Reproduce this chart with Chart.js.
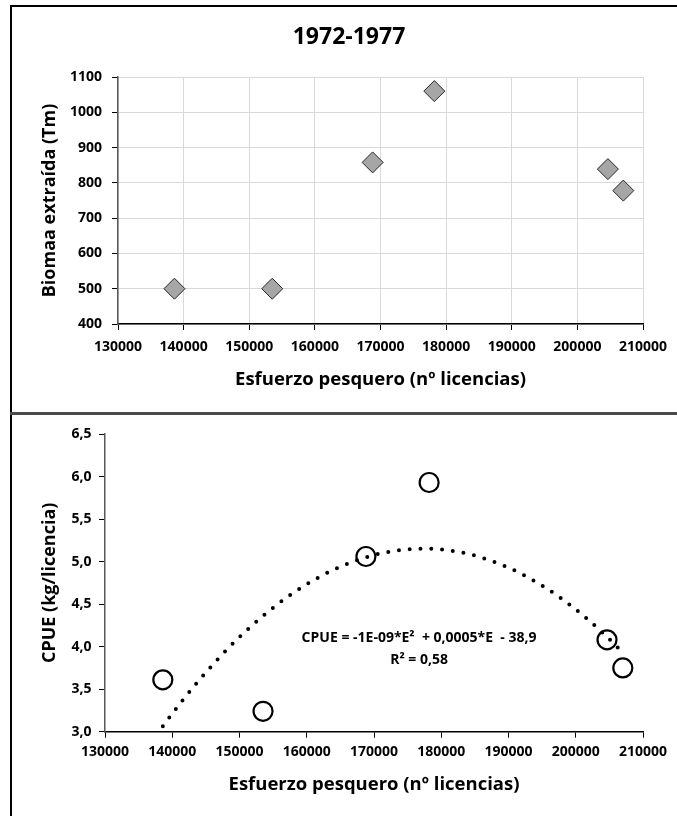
<!DOCTYPE html>
<html>
<head>
<meta charset="utf-8">
<script src="https://cdn.jsdelivr.net/npm/chart.js@4.4.1/dist/chart.umd.min.js"></script>
<style>
  body { margin: 0; background: #fff; }
  #wrap { position: relative; width: 677px; height: 816px; overflow: hidden; }
  canvas { position: absolute; left: 0; }
  #biomasaChart { top: 0; }
  #cpueChart { top: 413px; }
  .rule { position: absolute; }
</style>
</head>
<body>
<div id="wrap">
  <canvas id="biomasaChart" width="677" height="413"></canvas>
  <canvas id="cpueChart" width="677" height="403"></canvas>
  <div class="rule" style="left:10px;top:5px;width:2px;height:811px;background:#000"></div>
  <div class="rule" style="left:10px;top:5px;width:667px;height:2px;background:#000"></div>
  <div class="rule" style="left:10px;top:412px;width:667px;height:3px;background:#4a4a4a"></div>
</div>
<script>
'use strict';

// fishing effort (licences) for 1972-1977
const esfuerzo = [138600, 153500, 168800, 178200, 204650, 207000];
// extracted biomass (Tm)
const biomasa = [500, 500, 858, 1060, 839, 778];
// catch per unit effort (kg/licence)
const cpue = [3.61, 3.24, 5.06, 5.93, 4.08, 3.75];

const chartTitle = '1972-1977';
const xTitle = 'Esfuerzo pesquero (nº licencias)';
const yTitleBiomasa = 'Biomaa extraída (Tm)';
const yTitleCpue = 'CPUE (kg/licencia)';
const equationText = ['CPUE = -1E-09*E\u00B2  + 0,0005*E  - 38,9', 'R\u00B2 = 0,58'];

const FONT = "'Open Sans', 'Liberation Sans', sans-serif";

// least squares fit y = c0 + c1*t + c2*t^2 (t = x / 1e5), like the Excel trendline
function fitQuadratic(xs, ys) {
  const s = [0, 0, 0, 0, 0];
  const r = [0, 0, 0];
  xs.forEach((x, i) => {
    const t = x / 1e5;
    let p = 1;
    for (let k = 0; k < 5; k++) {
      s[k] += p;
      if (k < 3) r[k] += p * ys[i];
      p *= t;
    }
  });
  const m = [[s[0], s[1], s[2], r[0]], [s[1], s[2], s[3], r[1]], [s[2], s[3], s[4], r[2]]];
  for (let c = 0; c < 3; c++) {
    for (let j = c + 1; j < 3; j++) {
      const f = m[j][c] / m[c][c];
      for (let k = c; k < 4; k++) m[j][k] -= f * m[c][k];
    }
  }
  const coef = [0, 0, 0];
  for (let c = 2; c >= 0; c--) {
    let v = m[c][3];
    for (let k = c + 1; k < 3; k++) v -= m[c][k] * coef[k];
    coef[c] = v / m[c][c];
  }
  return x => { const t = x / 1e5; return coef[0] + coef[1] * t + coef[2] * t * t; };
}

const trend = fitQuadratic(esfuerzo, cpue);
const eMin = Math.min(...esfuerzo);
const eMax = Math.max(...esfuerzo);
const trendPoints = [];
for (let i = 0; i <= 200; i++) {
  const e = eMin + (eMax - eMin) * i / 200;
  trendPoints.push({x: e, y: trend(e)});
}

const tickFont = {family: FONT, size: 14, weight: 'bold'};
const titleFont = {family: FONT, size: 18.5, weight: 'bold'};

function xAxis(tickPad, height, titlePad) {
  return {
    type: 'linear', min: 130000, max: 210000,
    ticks: {stepSize: 10000, color: '#000', padding: tickPad, font: tickFont, callback: v => String(v)},
    title: {display: true, text: xTitle, color: '#000', padding: {top: 0, bottom: titlePad}, font: titleFont},
    border: {color: '#000', width: 1.5},
    afterFit: scale => { scale.height = height; }
  };
}

function yAxisTitle(text) {
  return {display: true, text: text, color: '#000', padding: {top: 39, bottom: 0}, font: {family: FONT, size: 18, weight: 'bold'}};
}

// chart heading, drawn on the canvas
const heading = {
  id: 'heading',
  afterDraw(chart, args, opts) {
    if (!opts.text) return;
    const ctx = chart.ctx;
    ctx.save();
    ctx.font = 'bold 23px ' + FONT;
    ctx.fillStyle = '#000';
    ctx.textAlign = 'center';
    ctx.textBaseline = 'middle';
    ctx.fillText(opts.text, opts.x, opts.y);
    ctx.restore();
  }
};

new Chart(document.getElementById('biomasaChart'), {
  type: 'scatter',
  data: {
    datasets: [{
      data: esfuerzo.map((e, i) => ({x: e, y: biomasa[i]})),
      pointStyle: 'rectRot',
      pointRadius: 10.5,
      pointHoverRadius: 10.5,
      backgroundColor: '#a6a6a6',
      borderColor: '#262626',
      borderWidth: 1
    }]
  },
  options: {
    responsive: false,
    animation: false,
    events: [],
    layout: {padding: {left: 0, right: 34, top: 77, bottom: 0}},
    plugins: {
      legend: {display: false},
      tooltip: {enabled: false},
      heading: {text: chartTitle, x: 349, y: 37}
    },
    scales: {
      x: Object.assign(xAxis(8.6, 89, 21.7), {grid: {color: '#d9d9d9', tickColor: '#000', tickLength: 6}}),
      y: {
        min: 400, max: 1100,
        ticks: {stepSize: 100, color: '#000', padding: 10, font: tickFont, callback: v => String(v)},
        title: yAxisTitle(yTitleBiomasa),
        grid: {color: '#d9d9d9', tickColor: '#000', tickLength: 6},
        border: {color: '#595959', width: 1.5},
        afterFit: scale => { scale.width = 118; }
      }
    }
  },
  plugins: [heading]
});

// trendline equation, anchored on data coordinates
const equationLabel = {
  id: 'equationLabel',
  afterDatasetsDraw(chart, args, opts) {
    const {ctx, scales: {x, y}} = chart;
    ctx.save();
    ctx.font = opts.font;
    ctx.fillStyle = '#000';
    ctx.textAlign = 'center';
    ctx.textBaseline = 'middle';
    opts.lines.forEach((text, i) => {
      ctx.fillText(text, x.getPixelForValue(opts.at[i][0]), y.getPixelForValue(opts.at[i][1]));
    });
    ctx.restore();
  }
};

new Chart(document.getElementById('cpueChart'), {
  type: 'scatter',
  data: {
    datasets: [{
      data: esfuerzo.map((e, i) => ({x: e, y: cpue[i]})),
      pointStyle: 'circle',
      pointRadius: 9.5,
      pointHoverRadius: 9.5,
      backgroundColor: 'rgba(0,0,0,0)',
      borderColor: '#000',
      borderWidth: 2.2
    }, {
      type: 'line',
      data: trendPoints,
      showLine: true,
      pointRadius: 0,
      borderColor: '#000',
      borderWidth: 4,
      borderDash: [0, 10.8],
      borderCapStyle: 'round',
      tension: 0,
      fill: false
    }]
  },
  options: {
    responsive: false,
    animation: false,
    events: [],
    layout: {padding: {left: 0, right: 34, top: 21, bottom: 0}},
    plugins: {
      legend: {display: false},
      tooltip: {enabled: false},
      equationLabel: {font: 'bold 14px ' + FONT, lines: equationText, at: [[176700, 4.10], [176700, 3.84]]}
    },
    scales: {
      x: Object.assign(xAxis(5.9, 84.3, 19.7), {grid: {drawOnChartArea: false, tickColor: '#000', tickLength: 6}}),
      y: {
        min: 3, max: 6.5,
        ticks: {stepSize: 0.5, color: '#000', padding: 7.5, font: tickFont, callback: v => v.toFixed(1).replace('.', ',')},
        title: yAxisTitle(yTitleCpue),
        grid: {drawOnChartArea: false, tickColor: '#000', tickLength: 6},
        border: {color: '#595959', width: 1.5},
        afterFit: scale => { scale.width = 105; }
      }
    }
  },
  plugins: [equationLabel]
});
</script>
</body>
</html>
